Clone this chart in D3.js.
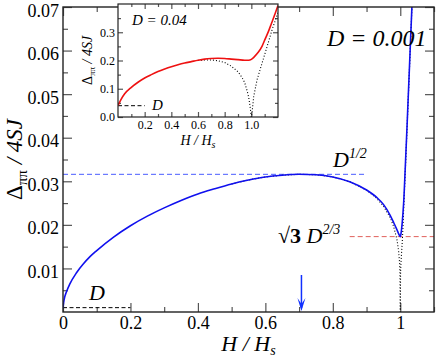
<!DOCTYPE html>
<html>
<head>
<meta charset="utf-8">
<script src="https://cdn.jsdelivr.net/npm/d3@7"></script>
<style>
  body { margin: 0; background: #fff; }
  svg text { font-family: "Liberation Serif", "Times New Roman", "DejaVu Serif", serif; }
</style>
</head>
<body>
<svg id="svg"></svg>
<script>
const width = 436;
const height = 359;

// main panel, D = 0.001 (blue) and D = 0 (dotted)
const hMain = [0, 0.002, 0.005, 0.01, 0.02, 0.04, 0.06, 0.08, 0.1, 0.15, 0.2, 0.25, 0.3, 0.35, 0.4, 0.45,
    0.5, 0.55, 0.6, 0.65, 0.7, 0.75, 0.8, 0.85, 0.9, 0.93, 0.95, 0.97, 0.98, 0.99, 0.995, 1.0,
    1.002, 1.004, 1.006, 1.008, 1.01, 1.015, 1.02, 1.025, 1.03, 1.035];
const gapMain = [0.001, 0.0022, 0.0034, 0.0046, 0.0064, 0.0090, 0.0110, 0.0127, 0.0141, 0.0172, 0.0198, 0.0220, 0.0239, 0.0256, 0.0271, 0.0283,
    0.0294, 0.0303, 0.0310, 0.0314, 0.0316, 0.0315, 0.0310, 0.0299, 0.0280, 0.0263, 0.0247, 0.0222, 0.0206, 0.0189, 0.0180, 0.0173,
    0.0179, 0.0191, 0.0207, 0.0227, 0.0250, 0.0335, 0.0425, 0.0520, 0.0615, 0.0710];
const hDotMain = [0.5, 0.55, 0.6, 0.65, 0.7, 0.75, 0.8, 0.85, 0.9, 0.93, 0.95, 0.97, 0.98, 0.99, 0.995, 0.998, 0.999, 1.0,
    1.001, 1.002, 1.004, 1.006, 1.008, 1.01, 1.015, 1.02, 1.025, 1.03, 1.035];
const gapDotMain = [0.0294, 0.0303, 0.0310, 0.0314, 0.0316, 0.0315, 0.0310, 0.0299, 0.0280, 0.0261, 0.0243, 0.0217, 0.0197, 0.0167, 0.0141, 0.0112, 0.0094, 0.0,
    0.0094, 0.0113, 0.0138, 0.0162, 0.0195, 0.0235, 0.0325, 0.0420, 0.0515, 0.0610, 0.0705];

// inset, D = 0.04 (red) and D = 0 (dotted)
const hInset = [0, 0.02, 0.05, 0.1, 0.15, 0.2, 0.25, 0.3, 0.35, 0.4, 0.45, 0.5, 0.55, 0.6, 0.65, 0.7, 0.75,
    0.8, 0.85, 0.9, 0.95, 0.98, 1.0, 1.02, 1.05, 1.08, 1.1, 1.13, 1.15, 1.18, 1.2];
const gapInset = [0.040, 0.060, 0.082, 0.105, 0.123, 0.138, 0.150, 0.161, 0.170, 0.178, 0.185, 0.191, 0.196, 0.201, 0.205, 0.207, 0.208,
    0.207, 0.205, 0.203, 0.201, 0.201, 0.204, 0.212, 0.228, 0.250, 0.272, 0.305, 0.330, 0.368, 0.395];
const hDotInset = [0.6, 0.65, 0.7, 0.75, 0.8, 0.85, 0.9, 0.93, 0.95, 0.97, 0.98, 0.99, 1.0,
    1.005, 1.018, 1.043, 1.08, 1.118, 1.155, 1.2];
const gapDotInset = [0.200, 0.202, 0.202, 0.199, 0.193, 0.180, 0.160, 0.140, 0.122, 0.090, 0.070, 0.040, 0.0,
    0.014, 0.073, 0.132, 0.190, 0.249, 0.308, 0.370];

// reference levels
const levelD = 0.001;
const levelSqrtD = 0.0316;
const levelCusp = 0.0173;
const levelInsetD = 0.04;
const arrowH = 0.707;

const xTicksMain = [0, 0.2, 0.4, 0.6, 0.8, 1];
const xMinorMain = [0.1, 0.3, 0.5, 0.7, 0.9, 1.1];
const yTicksMain = [0.01, 0.02, 0.03, 0.04, 0.05, 0.06, 0.07];
const yMinorMain = [0.005, 0.015, 0.025, 0.035, 0.045, 0.055, 0.065];
const xTicksInset = [0.2, 0.4, 0.6, 0.8, 1.0];
const xMinorInset = [0.1, 0.3, 0.5, 0.7, 0.9, 1.1];
const yTicksInset = [0.0, 0.1, 0.2, 0.3];
const yMinorInset = [0.05, 0.15, 0.25, 0.35];

const svg = d3.select("#svg").attr("width", width).attr("height", height);

const main = { left: 63, right: 434, top: 7, bottom: 312 };
const ins = { left: 118, right: 278, top: 4, bottom: 117 };

const x = d3.scaleLinear().domain([0, 1.1]).range([main.left, main.right]);
const y = d3.scaleLinear().domain([0, 0.07]).range([main.bottom, main.top]);
const xi = d3.scaleLinear().domain([0, 1.2]).range([ins.left, ins.right]);
const yi = d3.scaleLinear().domain([0, 0.4]).range([ins.bottom, ins.top]);

const tickColour = "#555";

// draw inward ticks on all four sides of a box
function drawTicks(g, xs, ys, box, xMaj, xMin, yMaj, yMin, big, small) {
    const parts = [
        [d3.axisBottom, xs, xMaj, -big, `translate(0,${box.bottom})`],
        [d3.axisBottom, xs, xMin, -small, `translate(0,${box.bottom})`],
        [d3.axisTop, xs, xMaj, -big, `translate(0,${box.top})`],
        [d3.axisTop, xs, xMin, -small, `translate(0,${box.top})`],
        [d3.axisLeft, ys, yMaj, -big, `translate(${box.left},0)`],
        [d3.axisLeft, ys, yMin, -small, `translate(${box.left},0)`],
        [d3.axisRight, ys, yMaj, -big, `translate(${box.right},0)`],
        [d3.axisRight, ys, yMin, -small, `translate(${box.right},0)`]
    ];
    for (const [fn, sc, vals, size, tr] of parts) {
        const a = g.append("g").attr("transform", tr)
            .call(fn(sc).tickValues(vals).tickSize(size).tickSizeOuter(0).tickFormat(""));
        a.select(".domain").remove();
        a.selectAll("line").attr("stroke", tickColour).attr("stroke-width", 1.2);
    }
}

// ---------- main panel ----------
const mainG = svg.append("g");
mainG.append("clipPath").attr("id", "clipMain").append("rect")
    .attr("x", main.left).attr("y", main.top)
    .attr("width", main.right - main.left).attr("height", main.bottom - main.top);

drawTicks(mainG, x, y, main, xTicksMain, xMinorMain, yTicksMain, yMinorMain, 9, 5);

// tick labels
const xLab = mainG.append("g").attr("transform", `translate(0,${main.bottom})`)
    .call(d3.axisBottom(x).tickValues(xTicksMain).tickSize(0).tickPadding(4)
        .tickFormat(d => d === 0 ? "0" : d === 1 ? "1" : d3.format(".1f")(d)));
xLab.select(".domain").remove();
xLab.selectAll("text").attr("font-size", 18).attr("fill", "#000");

const yLab = mainG.append("g").attr("transform", `translate(${main.left},0)`)
    .call(d3.axisLeft(y).tickValues(yTicksMain).tickSize(0).tickPadding(4)
        .tickFormat(d3.format(".2f")));
yLab.select(".domain").remove();
yLab.selectAll("text").attr("font-size", 18).attr("fill", "#000").attr("dy", "0.5em");

const plotMain = mainG.append("g").attr("clip-path", "url(#clipMain)");

// reference dashes
plotMain.append("line")
    .attr("x1", x(0)).attr("x2", x(0.2)).attr("y1", y(levelD)).attr("y2", y(levelD))
    .attr("stroke", "#000").attr("stroke-width", 1).attr("stroke-dasharray", "4,2.5");
plotMain.append("line")
    .attr("x1", x(0)).attr("x2", x(0.9)).attr("y1", y(levelSqrtD)).attr("y2", y(levelSqrtD))
    .attr("stroke", "#4a5cff").attr("stroke-width", 1).attr("stroke-dasharray", "5,3");
plotMain.append("line")
    .attr("x1", x(0.85)).attr("x2", x(1.1)).attr("y1", y(levelCusp)).attr("y2", y(levelCusp))
    .attr("stroke", "#e0605a").attr("stroke-width", 1).attr("stroke-dasharray", "5,3");

const lineMain = d3.line().x(d => x(d[0])).y(d => y(d[1]));
plotMain.append("path")
    .datum(d3.zip(hDotMain, gapDotMain))
    .attr("d", lineMain).attr("fill", "none")
    .attr("stroke", "#000").attr("stroke-width", 1.1).attr("stroke-dasharray", "1,2");
plotMain.append("path")
    .datum(d3.zip(hMain, gapMain))
    .attr("d", d3.line().curve(d3.curveMonotoneX).x(d => x(d[0])).y(d => y(d[1])))
    .attr("fill", "none").attr("stroke", "#1010ee").attr("stroke-width", 1.6);

// arrow at H = Hs / sqrt(2)
plotMain.append("line")
    .attr("x1", x(arrowH)).attr("x2", x(arrowH)).attr("y1", 275).attr("y2", main.bottom - 4)
    .attr("stroke", "#1030ff").attr("stroke-width", 1.5);
plotMain.append("path")
    .attr("d", `M${x(arrowH) - 4},${main.bottom - 14} L${x(arrowH)},${main.bottom - 1} L${x(arrowH) + 4},${main.bottom - 14} L${x(arrowH)},${main.bottom - 8} Z`)
    .attr("fill", "#1030ff");

// frame
mainG.append("rect")
    .attr("x", main.left).attr("y", main.top)
    .attr("width", main.right - main.left).attr("height", main.bottom - main.top)
    .attr("fill", "none").attr("stroke", "#222").attr("stroke-width", 1.4);

// main labels
const axisLabX = svg.append("text")
    .attr("x", (main.left + main.right) / 2).attr("y", 351)
    .attr("text-anchor", "middle").attr("font-size", 22).attr("font-style", "italic");
axisLabX.append("tspan").text("H / H");
axisLabX.append("tspan").attr("font-size", 14).attr("dy", 4).text("s");

const axisLabY = svg.append("text")
    .attr("transform", `translate(22,${(main.top + main.bottom) / 2}) rotate(-90)`)
    .attr("text-anchor", "middle").attr("font-size", 23);
axisLabY.append("tspan").text("Δ");
axisLabY.append("tspan").attr("font-size", 15).attr("dy", 5).text("ππ");
axisLabY.append("tspan").attr("dy", -5).attr("font-style", "italic").text(" / 4SJ");

svg.append("text").attr("x", 327).attr("y", 46)
    .attr("font-size", 24).attr("font-style", "italic").text("D = 0.001");

const sqrtLab = svg.append("text").attr("x", 333).attr("y", 167)
    .attr("font-size", 22).attr("font-style", "italic");
sqrtLab.append("tspan").text("D");
sqrtLab.append("tspan").attr("font-size", 14).attr("dy", -9).text("1/2");

const cuspLab = svg.append("text").attr("x", 278).attr("y", 243)
    .attr("font-size", 22).attr("font-style", "italic");
cuspLab.append("tspan").attr("font-weight", "bold").attr("font-style", "normal").text("√3");
cuspLab.append("tspan").text(" D");
cuspLab.append("tspan").attr("font-size", 14).attr("dy", -9).text("2/3");

svg.append("text").attr("x", 89).attr("y", 300)
    .attr("font-size", 22).attr("font-style", "italic").text("D");

// ---------- inset ----------
const insG = svg.append("g");
insG.append("rect")
    .attr("x", ins.left).attr("y", ins.top)
    .attr("width", ins.right - ins.left).attr("height", ins.bottom - ins.top)
    .attr("fill", "#fff");
insG.append("clipPath").attr("id", "clipIns").append("rect")
    .attr("x", ins.left).attr("y", ins.top)
    .attr("width", ins.right - ins.left).attr("height", ins.bottom - ins.top);

drawTicks(insG, xi, yi, ins, xTicksInset, xMinorInset, yTicksInset, yMinorInset, 5, 3);

const xiLab = insG.append("g").attr("transform", `translate(0,${ins.bottom})`)
    .call(d3.axisBottom(xi).tickValues(xTicksInset).tickSize(0).tickPadding(3).tickFormat(d3.format(".1f")));
xiLab.select(".domain").remove();
xiLab.selectAll("text").attr("font-size", 12).attr("fill", "#000");

const yiLab = insG.append("g").attr("transform", `translate(${ins.left},0)`)
    .call(d3.axisLeft(yi).tickValues(yTicksInset).tickSize(0).tickPadding(3).tickFormat(d3.format(".1f")));
yiLab.select(".domain").remove();
yiLab.selectAll("text").attr("font-size", 12).attr("fill", "#000");

const plotIns = insG.append("g").attr("clip-path", "url(#clipIns)");
plotIns.append("line")
    .attr("x1", xi(0)).attr("x2", xi(0.2)).attr("y1", yi(levelInsetD)).attr("y2", yi(levelInsetD))
    .attr("stroke", "#000").attr("stroke-width", 1).attr("stroke-dasharray", "4,2.5");
plotIns.append("path")
    .datum(d3.zip(hDotInset, gapDotInset))
    .attr("d", d3.line().x(d => xi(d[0])).y(d => yi(d[1])))
    .attr("fill", "none").attr("stroke", "#000").attr("stroke-width", 1.1).attr("stroke-dasharray", "1,2");
plotIns.append("path")
    .datum(d3.zip(hInset, gapInset))
    .attr("d", d3.line().curve(d3.curveMonotoneX).x(d => xi(d[0])).y(d => yi(d[1])))
    .attr("fill", "none").attr("stroke", "#ee1111").attr("stroke-width", 1.6);

insG.append("rect")
    .attr("x", ins.left).attr("y", ins.top)
    .attr("width", ins.right - ins.left).attr("height", ins.bottom - ins.top)
    .attr("fill", "none").attr("stroke", "#222").attr("stroke-width", 1.2);

svg.append("text").attr("x", 132).attr("y", 25)
    .attr("font-size", 15).attr("font-style", "italic").text("D = 0.04");
svg.append("text").attr("x", 152).attr("y", 110)
    .attr("font-size", 15).attr("font-style", "italic").text("D");

const insLabX = svg.append("text")
    .attr("x", (ins.left + ins.right) / 2).attr("y", 145)
    .attr("text-anchor", "middle").attr("font-size", 14).attr("font-style", "italic");
insLabX.append("tspan").text("H / H");
insLabX.append("tspan").attr("font-size", 10).attr("dy", 3).text("s");

const insLabY = svg.append("text")
    .attr("transform", `translate(92,${(ins.top + ins.bottom) / 2}) rotate(-90)`)
    .attr("text-anchor", "middle").attr("font-size", 14);
insLabY.append("tspan").text("Δ");
insLabY.append("tspan").attr("font-size", 9).attr("dy", 3).text("ππ");
insLabY.append("tspan").attr("dy", -3).attr("font-style", "italic").text(" / 4SJ");
</script>
</body>
</html>
